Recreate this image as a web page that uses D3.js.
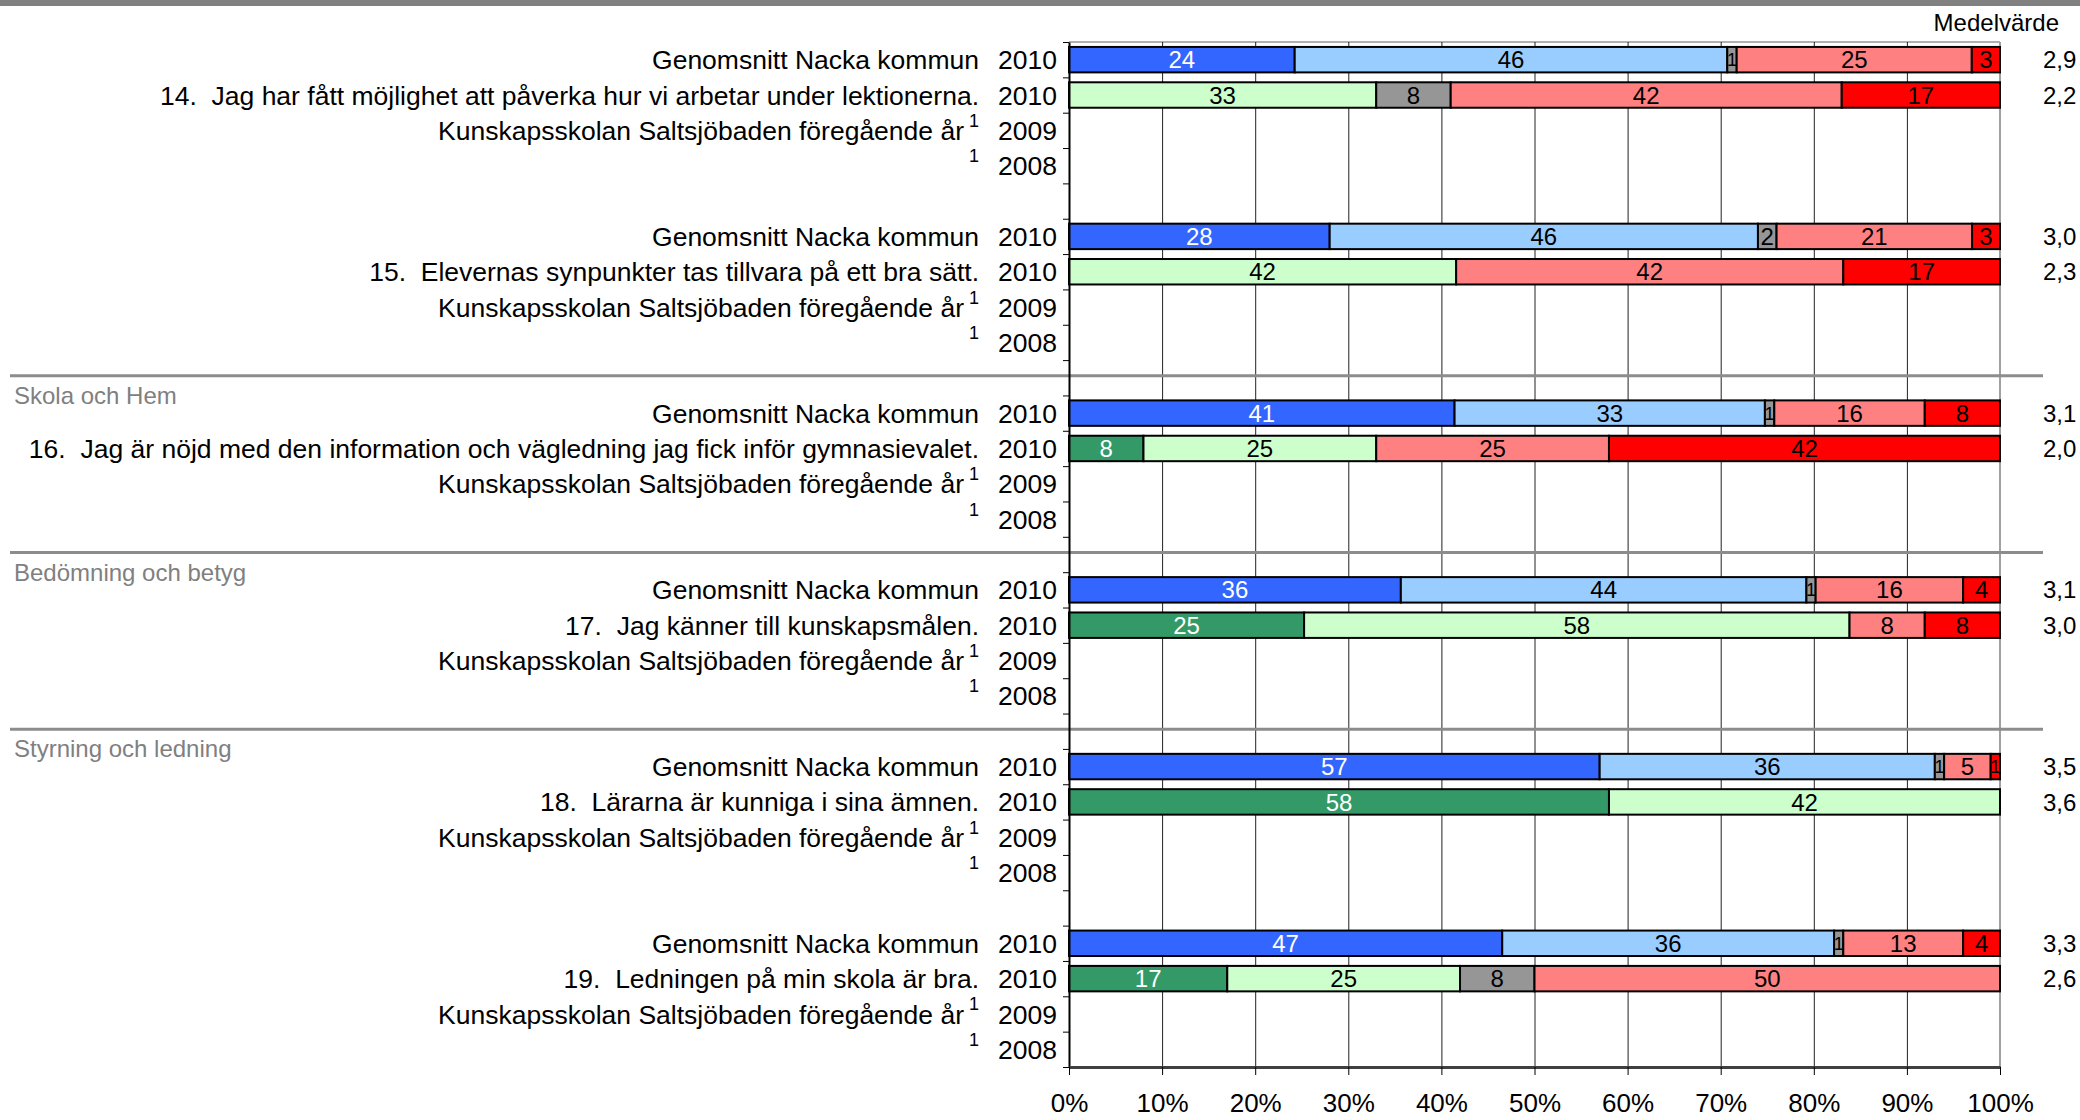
<!DOCTYPE html>
<html>
<head>
<meta charset="utf-8">
<script src="https://cdn.jsdelivr.net/npm/d3@7"></script>
<style>
  body { margin: 0; background: #fff; }
  text { font-family: "Liberation Sans", Arial, sans-serif; }
</style>
</head>
<body>
<svg id="myGraph" width="2080" height="1120"></svg>
<script>
// questions and section titles
var questions = [
  '14.  Jag har fått möjlighet att påverka hur vi arbetar under lektionerna.',
  '15.  Elevernas synpunkter tas tillvara på ett bra sätt.',
  '16.  Jag är nöjd med den information och vägledning jag fick inför gymnasievalet.',
  '17.  Jag känner till kunskapsmålen.',
  '18.  Lärarna är kunniga i sina ämnen.',
  '19.  Ledningen på min skola är bra.'
];
var sectionTitles = ['', '', 'Skola och Hem', 'Bedömning och betyg', 'Styrning och ledning', ''];
var nackaLabel = 'Genomsnitt Nacka kommun';
var prevLabel = 'Kunskapsskolan Saltsjöbaden föregående år';
var rowYears = ['2010', '2010', '2009', '2008'];
var answerKeys = ['a1', 'a2', 'a3', 'a4', 'a5'];

// percentages per answer (stämmer helt ... stämmer inte alls)
var nackaValues = [
  [24, 46, 1, 25, 3],
  [28, 46, 2, 21, 3],
  [41, 33, 1, 16, 8],
  [36, 44, 1, 16, 4],
  [57, 36, 1, 5, 1],
  [47, 36, 1, 13, 4]
];
var schoolValues = [
  [0, 33, 8, 42, 17],
  [0, 42, 0, 42, 17],
  [8, 25, 0, 25, 42],
  [25, 58, 0, 8, 8],
  [58, 42, 0, 0, 0],
  [17, 25, 8, 50, 0]
];
var nackaMeans = ['2,9', '3,0', '3,1', '3,1', '3,5', '3,3'];
var schoolMeans = ['2,2', '2,3', '2,0', '3,0', '3,6', '2,6'];
var tickValues = [0, 0.1, 0.2, 0.3, 0.4, 0.5, 0.6, 0.7, 0.8, 0.9, 1];
var tickLabels = ['0%', '10%', '20%', '30%', '40%', '50%', '60%', '70%', '80%', '90%', '100%'];

var nackaColors = ['#3366FF', '#99CCFF', '#969696', '#FF8080', '#FF0000'];
var schoolColors = ['#339966', '#CCFFCC', '#969696', '#FF8080', '#FF0000'];

var svg = d3.select('#myGraph');
var plotLeft = 1069, plotRight = 2000, plotTop = 42, plotBottom = 1067;

// build the rows (4 per question, blank row between questions)
var rows = [];
questions.forEach(function(q, i) {
  rows.push({ key: 'n' + i, type: 'nacka', q: i });
  rows.push({ key: 's' + i, type: 'school', q: i });
  rows.push({ key: 'p9' + i, type: 'p2009', q: i });
  rows.push({ key: 'p8' + i, type: 'p2008', q: i });
  if (i < questions.length - 1) rows.push({ key: 'b' + i, type: 'blank', q: i });
});

var x = d3.scaleLinear().domain([0, 1]).range([plotLeft, plotRight]);
var y = d3.scaleBand()
  .domain(rows.map(function(d) { return d.key; }))
  .range([plotTop, plotBottom])
  .paddingInner(0.28)
  .paddingOuter(0.14);

// top band
svg.append('rect').attr('x', 0).attr('y', 0).attr('width', 2080).attr('height', 6).attr('fill', '#808080');

// plot top border
svg.append('line').attr('x1', plotLeft).attr('x2', plotRight).attr('y1', plotTop).attr('y2', plotTop)
  .attr('stroke', '#b0b0b0').attr('stroke-width', 2);

// gridlines
svg.append('g')
  .attr('transform', 'translate(0,' + plotBottom + ')')
  .call(d3.axisBottom(x).tickValues(tickValues.slice(1, 10)).tickSize(-(plotBottom - plotTop)).tickFormat(''))
  .call(function(g) {
    g.select('.domain').remove();
    g.selectAll('line').attr('stroke', '#222').attr('stroke-width', 1);
  });
svg.append('line').attr('x1', x(1)).attr('x2', x(1)).attr('y1', plotTop).attr('y2', plotBottom)
  .attr('stroke', '#a0a0a0').attr('stroke-width', 2);

// section dividers and titles
sectionTitles.forEach(function(t, i) {
  if (!t) return;
  var yy = y('b' + (i - 1)) + y.bandwidth() / 2 - 2;
  svg.append('line').attr('x1', 10).attr('x2', 2043).attr('y1', yy).attr('y2', yy)
    .attr('stroke', '#8c8c8c').attr('stroke-width', 3);
  svg.append('text').attr('x', 14).attr('y', yy + 28)
    .attr('font-size', 24).attr('fill', '#808080').text(t);
});

// stacked bars
var barRows = rows.filter(function(d) { return d.type === 'nacka' || d.type === 'school'; })
  .map(function(d) {
    var vals = d.type === 'nacka' ? nackaValues[d.q] : schoolValues[d.q];
    var o = { key: d.key, type: d.type, q: d.q };
    answerKeys.forEach(function(k, j) { o[k] = vals[j]; });
    return o;
  });

var stack = d3.stack().keys(answerKeys).offset(d3.stackOffsetExpand);
var series = stack(barRows);

var segs = svg.append('g').selectAll('g')
  .data(series)
  .enter()
  .append('g');

function segData(s) {
  return s.map(function(p) { return { p: p, idx: s.index, key: s.key }; })
    .filter(function(d) { return d.p.data[d.key] > 0; });
}

segs.selectAll('rect')
  .data(segData)
  .enter()
  .append('rect')
  .attr('x', function(d) { return x(d.p[0]); })
  .attr('y', function(d) { return y(d.p.data.key); })
  .attr('width', function(d) { return x(d.p[1]) - x(d.p[0]); })
  .attr('height', y.bandwidth())
  .attr('fill', function(d) {
    return (d.p.data.type === 'nacka' ? nackaColors : schoolColors)[d.idx];
  })
  .attr('stroke', '#000')
  .attr('stroke-width', 2);

segs.selectAll('text')
  .data(segData)
  .enter()
  .append('text')
  .attr('x', function(d) { return (x(d.p[0]) + x(d.p[1])) / 2; })
  .attr('y', function(d) { return y(d.p.data.key) + y.bandwidth() / 2; })
  .attr('dy', '0.36em')
  .attr('text-anchor', 'middle')
  .attr('font-size', function(d) { return d.p.data[d.key] < 2 ? 18 : 24; })
  .attr('fill', function(d) { return d.idx === 0 ? '#fff' : '#000'; })
  .text(function(d) { return d.p.data[d.key]; });

// left axis with ticks between rows
var slot = d3.scaleLinear().domain([0, rows.length]).range([plotTop, plotBottom]);
svg.append('g')
  .attr('transform', 'translate(' + plotLeft + ',0)')
  .call(d3.axisLeft(slot).tickValues(d3.range(rows.length + 1)).tickSize(6).tickFormat('').tickSizeOuter(0))
  .call(function(g) {
    g.select('.domain').attr('stroke', '#000').attr('stroke-width', 2);
    g.selectAll('line').attr('stroke', '#000');
  });

// bottom axis
svg.append('g')
  .attr('transform', 'translate(0,' + plotBottom + ')')
  .call(d3.axisBottom(x).tickValues(tickValues).tickSize(8).tickSizeOuter(0)
    .tickFormat(function(d, i) { return tickLabels[i]; }))
  .call(function(g) {
    g.select('.domain').attr('stroke', '#404040').attr('stroke-width', 3);
    g.selectAll('line').attr('stroke', '#000');
    g.selectAll('text').attr('font-size', 26).attr('fill', '#000')
      .attr('font-family', '"Liberation Sans", Arial, sans-serif').attr('dy', '1.3em');
  });

// row labels
var labelRows = rows.filter(function(d) { return d.type !== 'blank'; });
labelRows.forEach(function(d) {
  var cy = y(d.key) + y.bandwidth() / 2;
  var yr = rowYears[['nacka', 'school', 'p2009', 'p2008'].indexOf(d.type)];
  svg.append('text').attr('x', 1057).attr('y', cy).attr('dy', '0.36em')
    .attr('text-anchor', 'end').attr('font-size', 26.5).text(yr);
  var main = d.type === 'nacka' ? nackaLabel : d.type === 'school' ? questions[d.q] : d.type === 'p2009' ? prevLabel : '';
  if (d.type === 'p2009' || d.type === 'p2008') {
    svg.append('text').attr('x', 979).attr('y', cy - 10).attr('dy', '0.36em')
      .attr('text-anchor', 'end').attr('font-size', 18).text('1');
    if (main) {
      svg.append('text').attr('x', 964).attr('y', cy).attr('dy', '0.36em')
        .attr('text-anchor', 'end').attr('font-size', 26.5).text(main);
    }
  } else {
    svg.append('text').attr('x', 979).attr('y', cy).attr('dy', '0.36em')
      .attr('text-anchor', 'end').attr('font-size', 26.5)
      .style('white-space', 'pre').text(main);
  }
});

// mean values
svg.append('text').attr('x', 2059).attr('y', 31).attr('text-anchor', 'end')
  .attr('font-size', 24).text('Medelvärde');
barRows.forEach(function(d) {
  svg.append('text')
    .attr('x', 2043)
    .attr('y', y(d.key) + y.bandwidth() / 2)
    .attr('dy', '0.36em')
    .attr('font-size', 24)
    .text(d.type === 'nacka' ? nackaMeans[d.q] : schoolMeans[d.q]);
});
</script>
</body>
</html>
